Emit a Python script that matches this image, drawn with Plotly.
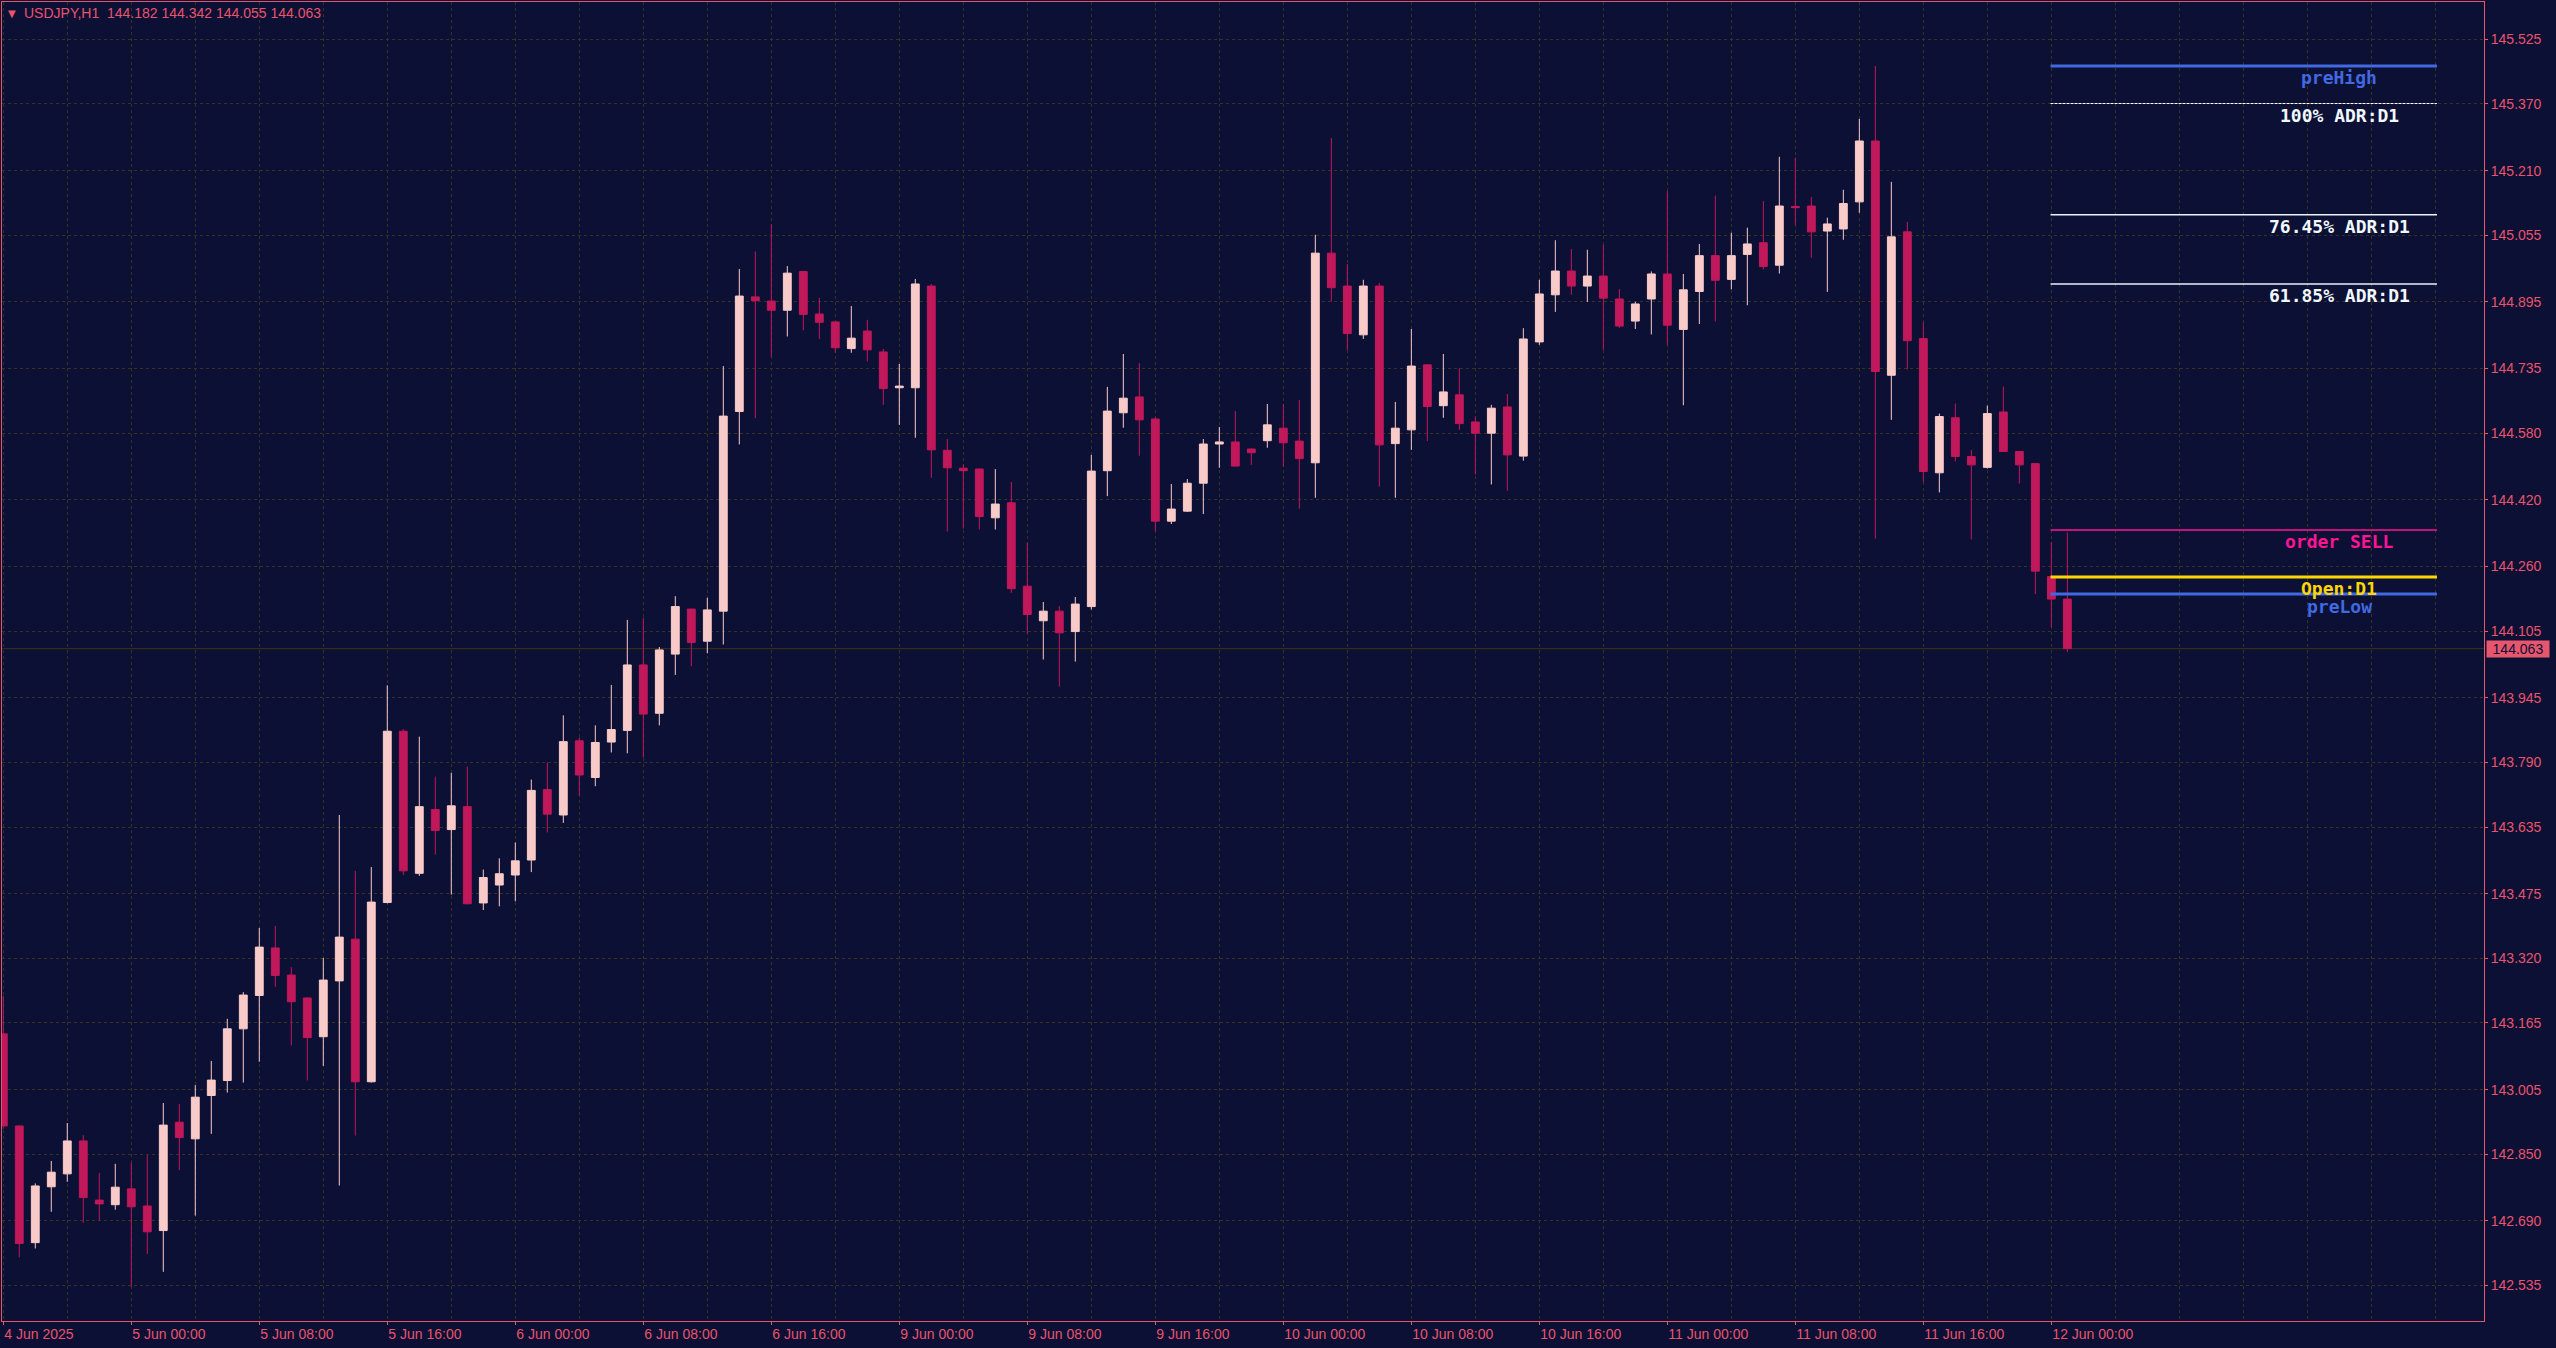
import pandas as pd
import plotly.graph_objects as go

# ---------------- data ----------------
symbol = "USDJPY,H1"

opens = [143.139, 142.918, 142.638, 142.772, 142.803, 142.882, 142.740, 142.729, 142.767, 142.726,
         142.667, 142.927, 142.887, 142.991, 143.027, 143.151, 143.231, 143.345, 143.280, 143.225,
         143.132, 143.266, 143.366, 143.024, 143.454, 143.865, 143.524, 143.677, 143.629, 143.684,
         143.453, 143.496, 143.520, 143.556, 143.725, 143.664, 143.842, 143.754, 143.839, 143.867,
         144.024, 143.908, 144.050, 144.158, 144.081, 144.153, 144.632, 144.907, 144.897, 144.875,
         144.968, 144.866, 144.847, 144.783, 144.825, 144.775, 144.689, 144.689, 144.933, 144.539,
         144.496, 144.494, 144.377, 144.413, 144.213, 144.130, 144.153, 144.104, 144.164, 144.490,
         144.629, 144.667, 144.614, 144.369, 144.393, 144.460, 144.554, 144.559, 144.542, 144.562,
         144.592, 144.561, 144.509, 145.012, 144.933, 144.816, 144.933, 144.555, 144.588, 144.744,
         144.646, 144.672, 144.607, 144.580, 144.643, 144.525, 144.799, 144.912, 144.969, 144.933,
         144.957, 144.902, 144.849, 144.902, 144.962, 144.829, 144.920, 145.006, 144.949, 145.009,
         145.037, 144.983, 145.124, 145.125, 145.065, 145.070, 145.135, 145.281, 144.719, 145.063,
         144.807, 144.485, 144.617, 144.524, 144.498, 144.631, 144.536, 144.507, 144.236, 144.182]
highs = [143.230, 142.919, 142.780, 142.834, 142.925, 142.896, 142.805, 142.827, 142.830, 142.848,
         142.973, 142.971, 143.016, 143.074, 143.175, 143.239, 143.393, 143.398, 143.299, 143.227,
         143.321, 143.664, 143.530, 143.539, 143.975, 143.870, 143.852, 143.756, 143.765, 143.780,
         143.533, 143.560, 143.598, 143.749, 143.790, 143.903, 143.850, 143.879, 143.976, 144.132,
         144.137, 144.067, 144.189, 144.159, 144.185, 144.741, 144.974, 145.016, 145.081, 144.981,
         144.969, 144.905, 144.848, 144.885, 144.852, 144.782, 144.746, 144.950, 144.938, 144.566,
         144.505, 144.495, 144.494, 144.463, 144.317, 144.175, 144.165, 144.187, 144.528, 144.691,
         144.770, 144.748, 144.619, 144.458, 144.470, 144.566, 144.595, 144.633, 144.543, 144.650,
         144.650, 144.660, 145.056, 145.288, 144.986, 144.948, 144.940, 144.655, 144.830, 144.746,
         144.770, 144.736, 144.620, 144.648, 144.674, 144.832, 144.948, 145.043, 145.022, 145.020,
         145.032, 144.926, 144.895, 144.968, 145.161, 144.962, 145.034, 145.150, 145.061, 145.073,
         145.137, 145.243, 145.241, 145.147, 145.097, 145.164, 145.334, 145.461, 145.183, 145.087,
         144.846, 144.627, 144.651, 144.540, 144.646, 144.692, 144.536, 144.507, 144.319, 144.342]
lows = [142.911, 142.603, 142.624, 142.712, 142.784, 142.686, 142.691, 142.717, 142.532, 142.611,
        142.568, 142.812, 142.703, 142.899, 142.998, 143.022, 143.072, 143.252, 143.111, 143.027,
        143.062, 142.775, 142.895, 143.022, 143.452, 143.520, 143.518, 143.569, 143.473, 143.450,
        143.436, 143.445, 143.457, 143.527, 143.622, 143.645, 143.710, 143.733, 143.814, 143.812,
        143.802, 143.879, 144.000, 144.021, 144.052, 144.073, 144.553, 144.616, 144.763, 144.812,
        144.827, 144.806, 144.773, 144.773, 144.752, 144.648, 144.600, 144.569, 144.473, 144.344,
        144.351, 144.349, 144.349, 144.197, 144.100, 144.037, 143.972, 144.032, 144.157, 144.429,
        144.593, 144.526, 144.345, 144.362, 144.391, 144.386, 144.497, 144.502, 144.504, 144.545,
        144.500, 144.399, 144.425, 144.896, 144.780, 144.806, 144.452, 144.425, 144.540, 144.561,
        144.617, 144.588, 144.481, 144.457, 144.442, 144.514, 144.792, 144.871, 144.912, 144.895,
        144.780, 144.832, 144.830, 144.817, 144.792, 144.647, 144.842, 144.848, 144.925, 144.887,
        144.973, 144.963, 145.080, 145.001, 144.919, 145.044, 145.109, 144.327, 144.612, 144.733,
        144.463, 144.438, 144.512, 144.325, 144.495, 144.536, 144.459, 144.194, 144.114, 144.055]
closes = [142.918, 142.636, 142.774, 142.807, 142.882, 142.746, 142.731, 142.771, 142.724, 142.664,
          142.920, 142.890, 142.987, 143.028, 143.151, 143.232, 143.347, 143.279, 143.216, 143.130,
          143.268, 143.371, 143.024, 143.455, 143.865, 143.530, 143.684, 143.627, 143.686, 143.451,
          143.514, 143.523, 143.554, 143.723, 143.666, 143.840, 143.760, 143.838, 143.869, 144.024,
          143.906, 144.060, 144.164, 144.078, 144.156, 144.621, 144.909, 144.898, 144.875, 144.964,
          144.865, 144.846, 144.785, 144.808, 144.780, 144.687, 144.693, 144.938, 144.540, 144.497,
          144.490, 144.380, 144.410, 144.207, 144.145, 144.153, 144.101, 144.170, 144.489, 144.633,
          144.664, 144.612, 144.369, 144.398, 144.460, 144.554, 144.559, 144.501, 144.533, 144.600,
          144.557, 144.519, 145.012, 144.929, 144.819, 144.933, 144.552, 144.592, 144.741, 144.644,
          144.679, 144.603, 144.580, 144.640, 144.528, 144.806, 144.914, 144.969, 144.933, 144.957,
          144.904, 144.837, 144.890, 144.962, 144.839, 144.924, 145.006, 144.947, 145.006, 145.034,
          144.980, 145.125, 145.121, 145.063, 145.082, 145.131, 145.281, 144.728, 145.051, 144.802,
          144.488, 144.620, 144.524, 144.504, 144.627, 144.536, 144.504, 144.249, 144.182, 144.063]

# hourly bar times (weekend skipped)
_all = pd.date_range("2025-06-04 16:00", "2025-06-12 01:00", freq="h")
times = [t for t in _all if t.weekday() < 5]

x_tick_times = ["2025-06-04 16:00", "2025-06-05 00:00", "2025-06-05 08:00", "2025-06-05 16:00",
                "2025-06-06 00:00", "2025-06-06 08:00", "2025-06-06 16:00", "2025-06-09 00:00",
                "2025-06-09 08:00", "2025-06-09 16:00", "2025-06-10 00:00", "2025-06-10 08:00",
                "2025-06-10 16:00", "2025-06-11 00:00", "2025-06-11 08:00", "2025-06-11 16:00",
                "2025-06-12 00:00"]
x_tick_labels = ["4 Jun 2025", "5 Jun 00:00", "5 Jun 08:00", "5 Jun 16:00", "6 Jun 00:00",
                 "6 Jun 08:00", "6 Jun 16:00", "9 Jun 00:00", "9 Jun 08:00", "9 Jun 16:00",
                 "10 Jun 00:00", "10 Jun 08:00", "10 Jun 16:00", "11 Jun 00:00", "11 Jun 08:00",
                 "11 Jun 16:00", "12 Jun 00:00"]

y_tick_values = [145.525, 145.370, 145.210, 145.055, 144.895, 144.735, 144.580, 144.420, 144.260,
                 144.105, 143.945, 143.790, 143.635, 143.475, 143.320, 143.165, 143.005, 142.850,
                 142.690, 142.535]

# indicator levels drawn for the current day
level_names = ["preHigh", "100% ADR:D1", "76.45% ADR:D1", "61.85% ADR:D1", "order SELL", "Open:D1", "preLow"]
level_prices = [145.461, 145.371, 145.104, 144.938, 144.348, 144.235, 144.194]
level_colors = ["#4169E1", "#FFFFFF", "#E6F4FF", "#E6F4FF", "#FF1493", "#FFD700", "#4169E1"]
level_text_colors = ["#4169E1", "#F0F8FF", "#F0F8FF", "#F0F8FF", "#FF1493", "#FFD700", "#4169E1"]
level_widths = [3, 1, 1.5, 1.5, 1.5, 3, 3]
level_dashes = ["solid", "3px,1px", "solid", "solid", "solid", "solid", "solid"]
day_start_time = "2025-06-12 00:00"

# ---------------- styling ----------------
BG = "#0C1035"
FRAME = "#E8546B"
GRID = "#38331F"
BULL = "#F9CBC8"
BEAR = "#C0185A"
AXFONT = "Liberation Sans"

time_keys = [t.strftime("%Y-%m-%d %H:%M") for t in times]
xidx = list(range(len(times)))
tickvals = [time_keys.index(t) for t in x_tick_times]
day_start = time_keys.index(day_start_time)

fig = go.Figure()
fig.add_trace(go.Candlestick(
    x=xidx, open=opens, high=highs, low=lows, close=closes,
    increasing=dict(line=dict(color=BULL, width=1), fillcolor=BULL),
    decreasing=dict(line=dict(color=BEAR, width=1), fillcolor=BEAR),
    whiskerwidth=0, showlegend=False, hoverinfo="skip",
))

shapes = []
# current price line
shapes.append(dict(type="line", xref="paper", x0=0, x1=1, yref="y",
                   y0=closes[-1], y1=closes[-1], line=dict(color="#3D3418", width=1), layer="below"))
annotations = []
for name, p, col, tcol, w, d in zip(level_names, level_prices, level_colors, level_text_colors,
                                    level_widths, level_dashes):
    shapes.append(dict(type="line", xref="x", yref="y", x0=day_start - 0.05, x1=day_start + 24.1,
                       y0=p, y1=p, line=dict(color=col, width=w, dash=d), layer="above"))
    annotations.append(dict(x=day_start + 18.0, y=p, xref="x", yref="y", text=name, showarrow=False,
                            xanchor="center", yanchor="middle", yshift=-12,
                            font=dict(family="DejaVu Sans Mono", size=18, color=tcol, weight="bold")))

# header
hdr = f"{symbol}\u00a0\u00a0{opens[-1]:.3f} {highs[-1]:.3f} {lows[-1]:.3f} {closes[-1]:.3f}"
annotations.append(dict(x=0, y=1, xref="paper", yref="paper", text=hdr, showarrow=False,
                        xanchor="left", yanchor="middle", xshift=20, yshift=-11,
                        font=dict(family=AXFONT, size=14, color=FRAME)))
annotations.append(dict(x=0, y=1, xref="paper", yref="paper", text="\u25BC", showarrow=False,
                        xanchor="center", yanchor="middle", xshift=10, yshift=-11,
                        font=dict(family="DejaVu Sans", size=10, color=FRAME)))
# current price tag
annotations.append(dict(x=1, y=closes[-1], xref="paper", yref="y", text=f"{closes[-1]:.3f}",
                        showarrow=False, xanchor="left", yanchor="middle", xshift=2,
                        bgcolor="#E8566E", borderpad=0, width=62, height=16, align="center",
                        font=dict(family=AXFONT, size=14, color=BG)))

fig.update_layout(
    width=2556, height=1348,
    paper_bgcolor=BG, plot_bgcolor=BG,
    margin=dict(l=2, r=72, t=2, b=27),
    shapes=shapes, annotations=annotations,
    showlegend=False,
    boxgap=0.3,
)
fig.update_xaxes(
    range=[-0.08, 155.04], rangeslider=dict(visible=False),
    tickmode="array", tickvals=tickvals, ticktext=x_tick_labels,
    ticks="outside", ticklen=3, tickcolor=FRAME, ticklabelposition="outside right",
    tickfont=dict(family=AXFONT, size=14, color=FRAME),
    showgrid=True, gridcolor=GRID, griddash="3px,3px", gridwidth=1,
    minor=dict(tickmode="linear", tick0=0, dtick=4, showgrid=True, gridcolor=GRID,
               griddash="3px,3px", ticks=""),
    showline=True, linecolor=FRAME, linewidth=1, mirror=True, zeroline=False,
)
fig.update_yaxes(
    range=[142.450, 145.6145], side="right",
    tickmode="array", tickvals=y_tick_values, ticktext=[f"{v:.3f}" for v in y_tick_values],
    ticks="outside", ticklen=3, tickcolor=FRAME,
    tickfont=dict(family=AXFONT, size=14, color=FRAME),
    showgrid=True, gridcolor=GRID, griddash="3px,3px", gridwidth=1,
    showline=True, linecolor=FRAME, linewidth=1, mirror=True, zeroline=False,
)

fig.write_html("out.html", config={"displayModeBar": False},
               post_script="document.body.style.margin='0';document.body.style.overflow='hidden';")
